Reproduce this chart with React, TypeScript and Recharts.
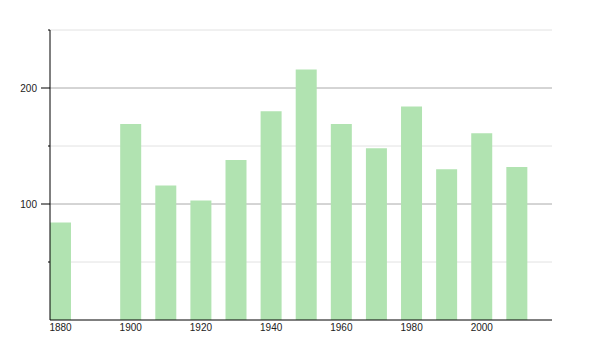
import { Bar, BarChart, CartesianGrid, XAxis, YAxis } from "recharts";

const years = [1880, 1900, 1910, 1920, 1930, 1940, 1950, 1960, 1970, 1980, 1990, 2000, 2010];
const population = [84, 169, 116, 103, 138, 180, 216, 169, 148, 184, 130, 161, 132];
const xTicks = [1880, 1900, 1920, 1940, 1960, 1980, 2000];
const yTicks = [0, 50, 100, 150, 200, 250];
const minorLines = [50, 150, 250];
const majorLines = [100, 200];

const data = years.map((year, i) => ({ year, value: population[i] }));

const font = "'Liberation Sans', Arial, sans-serif";

function LeftTick(props: any) {
  const { x, y, payload } = props;
  const v = payload.value as number;
  if (v === 0) return null;
  const major = majorLines.includes(v);
  return (
    <g>
      <line x1={x - (major ? 9 : 2)} y1={y} x2={x} y2={y} stroke="#000" strokeWidth={1} />
      {major && (
        <text x={x - 13} y={y} dy="0.35em" textAnchor="end" fontSize={10} fill="#222" fontFamily={font}>
          {v}
        </text>
      )}
    </g>
  );
}

export default function App() {
  return (
    <div style={{ position: "absolute", left: 0, top: 0, background: "#fff" }}>
      <BarChart width={600} height={350} data={data} margin={{ top: 30, right: 48, bottom: 0, left: 0 }}>
        <CartesianGrid vertical={false} horizontalValues={minorLines} stroke="#e2e2e2" />
        <CartesianGrid vertical={false} horizontalValues={majorLines} stroke="#aaaaaa" />
        <XAxis
          dataKey="year"
          type="number"
          height={30}
          domain={[1877, 2020]}
          ticks={xTicks}
          allowDataOverflow
          tickLine={false}
          tickSize={0}
          tickMargin={4}
          axisLine={{ stroke: "#000" }}
          tick={{ fontSize: 10, fill: "#222", fontFamily: font }}
        />
        <YAxis
          width={50}
          domain={[0, 250]}
          ticks={yTicks}
          tickLine={false}
          tickSize={0}
          tickMargin={0}
          axisLine={{ stroke: "#000" }}
          tick={<LeftTick />}
        />
        <Bar dataKey="value" fill="#b1e3b1" barSize={21} isAnimationActive={false} />
      </BarChart>
    </div>
  );
}
